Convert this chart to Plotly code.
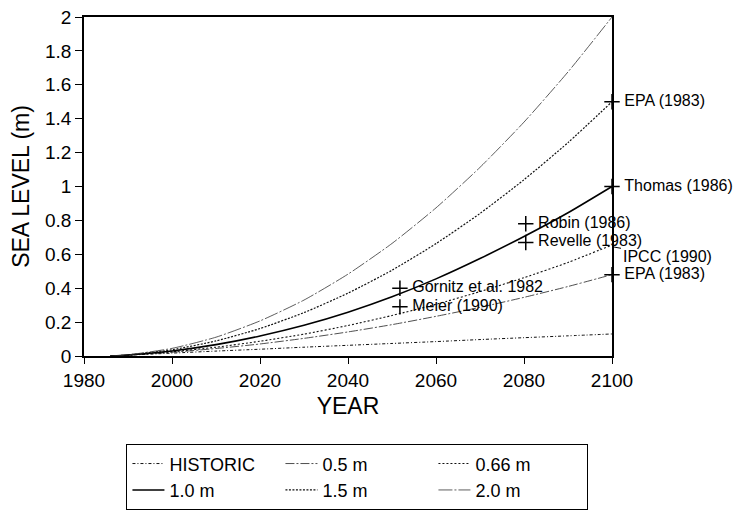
import plotly.graph_objects as go

years = [1986, 1990, 2000, 2010, 2020, 2030, 2040, 2050, 2060, 2070, 2080, 2090, 2100]
historic = [0, 0.005, 0.017, 0.029, 0.040, 0.052, 0.063, 0.074, 0.085, 0.097, 0.108, 0.119, 0.13]
s05 = [0, 0.005, 0.022, 0.044, 0.071, 0.104, 0.142, 0.185, 0.234, 0.287, 0.346, 0.410, 0.480]
s066 = [0, 0.005, 0.025, 0.052, 0.087, 0.129, 0.180, 0.239, 0.305, 0.380, 0.462, 0.552, 0.655]
s10 = [0, 0.006, 0.030, 0.067, 0.118, 0.181, 0.258, 0.349, 0.455, 0.575, 0.705, 0.845, 1.000]
s15 = [0, 0.0065, 0.037, 0.089, 0.162, 0.256, 0.371, 0.506, 0.663, 0.841, 1.040, 1.259, 1.500]
s20 = [0, 0.007, 0.045, 0.111, 0.207, 0.330, 0.483, 0.664, 0.874, 1.113, 1.380, 1.676, 2.000]

series_names = ["HISTORIC", "0.5 m", "0.66 m", "1.0 m", "1.5 m", "2.0 m"]

est_years = [2100, 2100, 2080.4, 2080.4, 2100, 2051.8, 2051.8]
est_values = [1.5, 1.0, 0.78, 0.67, 0.48, 0.40, 0.29]
est_labels = ["EPA (1983)", "Thomas (1986)", "Robin (1986)", "Revelle (1983)",
              "EPA (1983)", "Gornitz et al. 1982", "Meier (1990)"]
ipcc_year, ipcc_value, ipcc_label = 2100, 0.645, "IPCC (1990)"

x_ticks = [1980, 2000, 2020, 2040, 2060, 2080, 2100]

FONT = "Liberation Sans, Arial, Helvetica, sans-serif"

styles = [
    dict(color="#111", width=1.0, dash="3px,2px,1px,2px"),
    dict(color="#222", width=0.8, dash="9px,2px,2px,2px"),
    dict(color="#111", width=1.1, dash="2px,2px"),
    dict(color="#000", width=1.6, dash="solid"),
    dict(color="#111", width=1.2, dash="2px,1.5px"),
    dict(color="#333", width=0.8, dash="14px,2px,2px,2px"),
]
data = [historic, s05, s066, s10, s15, s20]

fig = go.Figure()
for name, vals, st in zip(series_names, data, styles):
    fig.add_trace(go.Scatter(x=years, y=vals, mode="lines", name=name,
                             line=dict(shape="spline", smoothing=0.6, **st)))

fig.add_trace(go.Scatter(
    x=est_years, y=est_values, mode="markers+text",
    text=["\u00a0" + t for t in est_labels],
    textposition="middle right", showlegend=False, cliponaxis=False,
    marker=dict(symbol="cross-thin", size=11, line=dict(color="black", width=1.5)),
    textfont=dict(family=FONT, size=16, color="black")))

fig.add_annotation(x=ipcc_year, y=ipcc_value, text=ipcc_label, showarrow=True,
                   arrowhead=0, arrowwidth=1, arrowcolor="black", ax=55, ay=10,
                   font=dict(family=FONT, size=16, color="black"))

fig.update_layout(
    width=742, height=523,
    margin=dict(l=76, r=138, t=9, b=175),
    paper_bgcolor="white", plot_bgcolor="white",
    font=dict(family=FONT, size=19, color="black"),
    legend=dict(orientation="h", x=0.08, y=-0.26, xanchor="left", yanchor="top",
                bordercolor="black", borderwidth=1.2, entrywidth=106,
                entrywidthmode="pixels", font=dict(family=FONT, size=18),
                itemwidth=32, traceorder="normal"),
)
fig.update_xaxes(range=[1980, 2100], tickvals=x_ticks, showgrid=False, zeroline=False,
                 showline=True, linecolor="black", linewidth=1.5, mirror=True,
                 ticks="outside", ticklen=6, tickwidth=1.2, tickcolor="black",
                 automargin=False,
                 title=dict(text="YEAR", standoff=8), tickfont=dict(size=19))
fig.update_yaxes(range=[0, 2], dtick=0.2, showgrid=False, zeroline=False,
                 showline=True, linecolor="black", linewidth=1.5, mirror=True,
                 ticks="outside", ticklen=7, tickwidth=1.2, tickcolor="black",
                 automargin=False, ticklabeloverflow="allow",
                 title=dict(text="SEA LEVEL (m)", standoff=13), tickfont=dict(size=19))

fig.write_html("out.html")
